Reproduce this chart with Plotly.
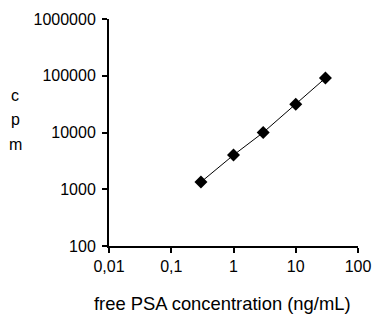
import plotly.graph_objects as go

conc = [0.3, 1, 3, 10, 30]
cpm = [1340, 4000, 10000, 31500, 91000]
x_tickvals = [0.01, 0.1, 1, 10, 100]
x_ticktext = ["0,01", "0,1", "1", "10", "100"]
y_tickvals = [100, 1000, 10000, 100000, 1000000]
y_ticktext = ["100", "1000", "10000", "100000", "1000000"]

FONT = "Liberation Sans, Arial, sans-serif"

W, H = 372, 314
L, T, R, B = 109, 19, 14, 68
PW, PH = W - L - R, H - T - B

fig = go.Figure()
fig.add_trace(go.Scatter(
    x=conc, y=cpm, mode="lines+markers",
    line=dict(color="black", width=1),
    marker=dict(symbol="diamond", size=10, color="black"),
    showlegend=False,
))

fig.update_layout(
    width=W, height=H,
    margin=dict(l=L, r=R, t=T, b=B),
    paper_bgcolor="white", plot_bgcolor="white",
    font=dict(family=FONT, size=16, color="black"),
    xaxis=dict(
        type="log", range=[-2, 2],
        tickvals=x_tickvals, ticktext=x_ticktext,
        ticks="outside", ticklen=5, tickwidth=2, tickcolor="black",
        showline=True, linewidth=2, linecolor="black",
        showgrid=False, zeroline=False, automargin=False,
        ticklabeloverflow="allow",
    ),
    yaxis=dict(
        type="log", range=[2, 6],
        tickvals=y_tickvals, ticktext=y_ticktext,
        ticks="outside", ticklen=5, tickwidth=2, tickcolor="black",
        showline=True, linewidth=2, linecolor="black",
        showgrid=False, zeroline=False, automargin=False,
        ticklabelstandoff=3,
    ),
)

# x-axis title (centred slightly left of the plot area, as in the original)
fig.add_annotation(
    text="free PSA concentration (ng/mL)", xref="paper", yref="paper",
    x=(222 - L) / PW, y=(H - B - 303) / PH,
    xanchor="center", yanchor="middle", showarrow=False,
    font=dict(size=18.4, family=FONT),
)

# y-axis title, letters stacked vertically
for i, ch in enumerate(["c", "p", "m"]):
    fig.add_annotation(
        text=ch, xref="paper", yref="paper",
        x=(15 - L) / PW, y=(H - B - (95 + 24.5 * i)) / PH,
        xanchor="center", yanchor="middle", showarrow=False,
        font=dict(size=16, family=FONT),
    )

fig.write_html(
    "out.html",
    config={"displayModeBar": False},
    post_script="document.body.style.margin='0';document.body.style.overflow='hidden';",
)
